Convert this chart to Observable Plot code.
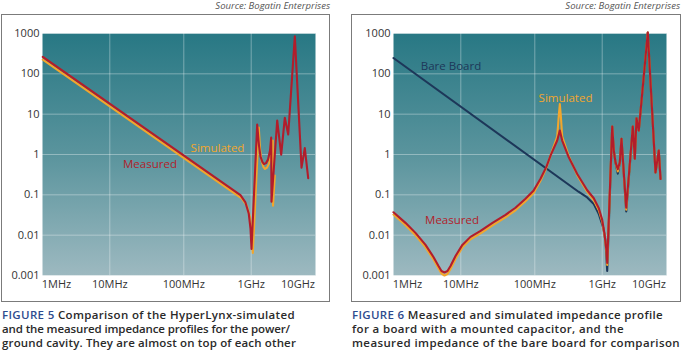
<!DOCTYPE html>
<html>
<head>
<meta charset="utf-8">
<script src="https://cdn.jsdelivr.net/npm/d3@7"></script>
<script src="https://cdn.jsdelivr.net/npm/@observablehq/plot@0.6"></script>
<style>
  html, body { margin: 0; padding: 0; background: #fff; }
  body { width: 682px; height: 353px; position: relative; overflow: hidden; font-family: "Open Sans", sans-serif; }
  .src { position: absolute; top: 0; font-size: 9.5px; line-height: 11px; font-style: italic; color: #555; text-align: right; white-space: nowrap; }
  .box { position: absolute; top: 14px; height: 288px; box-sizing: border-box; border: 1.5px solid #7b7b7b; }
  .chart { position: absolute; top: 0; }
  .cap { position: absolute; top: 308px; font-size: 11.5px; line-height: 14.2px; font-weight: 600; color: #2a2a2a; white-space: nowrap; }
  .cap span.line { display: inline-block; }
  .cap .fig { color: #2d4b8e; }
</style>
</head>
<body>
<div class="src" style="left:0; width:330px;">Source: Bogatin Enterprises</div>
<div class="box" style="left:1px; width:329px;"></div>
<div class="chart" id="c5" style="left:0;"></div>
<div class="cap" style="left:2px;"><span class="line" data-w="293"><span class="fig">FIGURE 5</span> Comparison of the HyperLynx-simulated</span><br><span class="line" data-w="288">and the measured impedance profiles for the power/</span><br><span class="line" data-w="294">ground cavity. They are almost on top of each other</span></div>

<div class="src" style="left:351px; width:329px;">Source: Bogatin Enterprises</div>
<div class="box" style="left:351px; width:330px;"></div>
<div class="chart" id="c6" style="left:351px;"></div>
<div class="cap" style="left:352px;"><span class="line" data-w="311"><span class="fig">FIGURE 6</span> Measured and simulated impedance profile</span><br><span class="line" data-w="272">for a board with a mounted capacitor, and the</span><br><span class="line" data-w="328">measured impedance of the bare board for comparison</span></div>

<script>
// ---- axes ----
const xTicks = [1, 10, 100, 1000, 10000];               // MHz
const xTickLabels = ["1MHz", "10MHz", "100MHz", "1GHz", "10GHz"];
const yTicks = [0.001, 0.01, 0.1, 1, 10, 100, 1000];    // ohms
const yTickLabels = ["0.001", "0.01", "0.1", "1", "10", "100", "1000"];
const xGrid = [10, 100, 1000];

// ---- Figure 5 ----
const fig5MeasuredF = [0.553, 693, 822, 921, 977, 1015, 1343, 1468, 1581, 1742, 1877, 2070, 2285, 2523, 2673, 2716, 3594, 4375, 5225, 6180, 8550, 11890, 13970, 16520];
const fig5MeasuredZ = [262, 0.098, 0.0647, 0.0339, 0.01435, 0.00456, 5.54, 1.66, 0.887, 0.647, 0.577, 0.611, 0.746, 1.25, 2.63, 0.0673, 6.97, 0.994, 8.13, 3.13, 857, 0.472, 1.44, 0.259];
const fig5SimF = [0.553, 722, 857, 959, 1025, 1082, 1452, 1542, 1660, 1832, 1972, 2177, 2400, 2716, 2894, 2925, 3190];
const fig5SimZ = [225, 0.0822, 0.0551, 0.0285, 0.01208, 0.00363, 4.67, 1.40, 0.705, 0.486, 0.438, 0.472, 0.594, 1.05, 2.22, 0.0535, 0.299];
const fig5LabelText = ["Simulated", "Measured"];
const fig5LabelF = [316, 34.9];
const fig5LabelZ = [1.44, 0.577];

// ---- Figure 6 ----
const fig6BareF = [0.545, 445, 599, 750, 891, 1050, 1176, 1279, 1636, 1770, 1923, 2154, 2377, 2583, 3260, 4510, 4977, 5410, 6050, 9420, 13770, 16180, 17620];
const fig6BareZ = [247, 0.1194, 0.0861, 0.0590, 0.0333, 0.01545, 0.00721, 0.001294, 4.94, 1.25, 0.640, 0.335, 0.629, 2.44, 0.0387, 4.94, 0.791, 7.95, 3.93, 1050, 0.361, 1.25, 0.247];
const fig6MeasF = [0.545, 0.917, 1.413, 2.18, 3.07, 3.82, 4.34, 4.94, 5.63, 6.41, 7.96, 10.5, 13.5, 18.5, 26.8, 40.2, 54.8, 74.8, 95.9, 121.5, 149, 171, 215, 235, 255, 319, 426, 599, 750, 891, 1000, 1120, 1236, 1279, 1636, 1770, 1923, 2154, 2377, 2583, 3260, 4510, 4977, 5410, 6050, 9420, 13770, 16180, 17620];
const fig6MeasZ = [0.0369, 0.0202, 0.0114, 0.00574, 0.00288, 0.00172, 0.001294, 0.00119, 0.001294, 0.00172, 0.00305, 0.00574, 0.00907, 0.0128, 0.0202, 0.0320, 0.0478, 0.080, 0.1265, 0.251, 0.500, 0.939, 2.22, 3.93, 2.22, 0.851, 0.329, 0.130, 0.0822, 0.0464, 0.0240, 0.01077, 0.00407, 0.00205, 4.94, 1.25, 0.640, 0.433, 0.629, 2.44, 0.0478, 4.94, 0.791, 7.95, 3.93, 1050, 0.361, 1.25, 0.247];
const fig6SimF = [0.545, 0.917, 1.413, 2.18, 3.07, 3.82, 4.34, 4.94, 5.63, 6.41, 7.96, 10.5, 13.5, 18.5, 26.8, 40.2, 54.8, 74.8, 95.9, 121.5, 149, 171, 215, 227, 235, 243, 255, 319, 426, 599, 750, 891, 1000, 1120, 1236, 1279, 1636, 1770, 1923, 2154, 2377, 2583, 3260, 4510, 4977, 5410, 6050, 9420, 13770, 16180, 17620];
const fig6SimZ = [0.0324, 0.01753, 0.00989, 0.00498, 0.0025, 0.00149, 0.00112, 0.001, 0.00109, 0.00145, 0.00257, 0.00498, 0.00787, 0.0111, 0.01753, 0.0277, 0.0414, 0.0693, 0.1096, 0.224, 0.472, 0.939, 2.79, 9.29, 17.9, 9.29, 2.79, 0.912, 0.307, 0.1194, 0.0734, 0.0414, 0.0220, 0.01017, 0.00384, 0.00182, 4.94, 1.25, 0.640, 0.38, 0.629, 2.44, 0.043, 4.94, 0.791, 7.95, 3.93, 1050, 0.361, 1.25, 0.247];
const fig6LabelText = ["Bare Board", "Simulated", "Measured"];
const fig6LabelF = [6.55, 285.5, 6.84];
const fig6LabelZ = [158, 25.3, 0.0227];

// ---- styles ----
const RED = "#b21d2b", ORANGE = "#f2a62c", NAVY = "#1d3759";

const zip = (F, Z) => F.map((f, i) => ({f, z: Z[i]}));

function makeChart(target, gradId, series, labels) {
  const labelData = labels.text.map((t, i) => ({t, f: labels.f[i], z: labels.z[i], c: labels.c[i]}));
  const chart = Plot.plot({
    width: 331, height: 302,
    marginLeft: 42, marginRight: 16, marginTop: 33, marginBottom: 27,
    style: {background: "transparent", fontFamily: "'Open Sans', sans-serif", fontSize: "11px", color: "#333", overflow: "visible"},
    x: {type: "log", domain: xTicks, range: [56, 109.3, 183.3, 250.7, 297.5],
        ticks: xTicks, tickFormat: d => xTickLabels[xTicks.indexOf(d)], tickSize: 0, tickPadding: 5, label: null},
    y: {type: "log", domain: [0.001, 1000], ticks: yTicks,
        tickFormat: d => yTickLabels[yTicks.indexOf(d)], tickSize: 0, tickPadding: 3, label: null},
    marks: [
      Plot.frame({fill: `url(#${gradId})`, stroke: "none"}),
      Plot.ruleY(yTicks, {stroke: "#ffffff", strokeOpacity: 0.35, strokeWidth: 1}),
      Plot.ruleX(xGrid, {stroke: "#ffffff", strokeOpacity: 0.35, strokeWidth: 1}),
      ...series.map(s => Plot.line(s.data, {x: "f", y: "z", stroke: s.color, strokeWidth: 2.1, strokeLinejoin: "round"})),
      Plot.text(labelData, {x: "f", y: "z", text: "t", fill: "c", fontSize: 11.5, fontFamily: "'Open Sans', sans-serif"})
    ]
  });
  const svg = d3.select(chart);
  const grad = svg.insert("defs", ":first-child").append("linearGradient")
    .attr("id", gradId).attr("x1", 0).attr("y1", 0).attr("x2", 0).attr("y2", 1);
  grad.append("stop").attr("offset", "0%").attr("stop-color", "#287884");
  grad.append("stop").attr("offset", "50%").attr("stop-color", "#5a949d");
  grad.append("stop").attr("offset", "100%").attr("stop-color", "#9db9c0");
  document.getElementById(target).appendChild(chart);
}

makeChart("c5", "grad5", [
  {data: zip(fig5SimF, fig5SimZ), color: ORANGE},
  {data: zip(fig5MeasuredF, fig5MeasuredZ), color: RED}
], {text: fig5LabelText, f: fig5LabelF, z: fig5LabelZ, c: [ORANGE, RED]});

makeChart("c6", "grad6", [
  {data: zip(fig6BareF, fig6BareZ), color: NAVY},
  {data: zip(fig6SimF, fig6SimZ), color: ORANGE},
  {data: zip(fig6MeasF, fig6MeasZ), color: RED}
], {text: fig6LabelText, f: fig6LabelF, z: fig6LabelZ, c: [NAVY, ORANGE, RED]});

// fit each caption line to the width it has in the reference
document.querySelectorAll(".cap span.line").forEach(el => {
  const target = +el.dataset.w;
  const n = el.textContent.length;
  const w = el.getBoundingClientRect().width;
  const ls = Math.max(-0.5, Math.min(1.2, (target - w) / n));
  el.style.letterSpacing = ls.toFixed(3) + "px";
});
</script>
</body>
</html>
